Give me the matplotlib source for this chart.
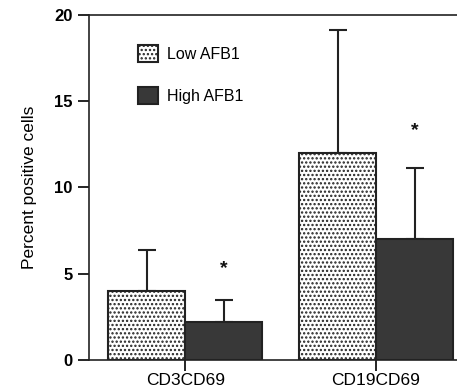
import matplotlib.pyplot as plt
import numpy as np

plt.rcParams['font.family'] = ['Liberation Sans', 'DejaVu Sans']
plt.rcParams['hatch.linewidth'] = 1.1

groups = ['CD3CD69', 'CD19CD69']
low_vals = [4.0, 12.0]
low_err = [2.4, 7.1]
high_vals = [2.2, 7.0]
high_err = [1.3, 4.1]
star_y = [5.3, 13.3]

fig = plt.figure(figsize=(4.57, 3.91), dpi=100)
ax = fig.add_axes([0.195, 0.079, 0.805, 0.883])

x = np.arange(len(groups))
w = 0.403

ax.bar(x - w / 2, low_vals, w, color='white', edgecolor='#222222', hatch='....',
       linewidth=1.5, label='Low AFB1', zorder=2)
ax.bar(x + w / 2, high_vals, w, color='#383838', edgecolor='#222222',
       linewidth=1.5, label='High AFB1', zorder=2)

ax.errorbar(x - w / 2, low_vals, yerr=[np.zeros(2), low_err], fmt='none',
            ecolor='#222222', elinewidth=1.5, capsize=6.5, capthick=1.5, zorder=1)
ax.errorbar(x + w / 2, high_vals, yerr=[np.zeros(2), high_err], fmt='none',
            ecolor='#222222', elinewidth=1.5, capsize=6.5, capthick=1.5, zorder=1)

for xi, sy in zip(x, star_y):
    ax.text(xi + w / 2, sy, '*', ha='center', va='center', fontsize=14,
            fontweight='bold', color='#111111')

ax.set_xlim(-0.503, 1.424)
ax.set_ylim(0, 20)
ax.set_yticks([0, 5, 10, 15, 20])
ax.set_xticks(x)
ax.set_xticklabels(groups, fontsize=12.5)
for lab in ax.get_yticklabels():
    lab.set_fontweight('bold')
    lab.set_fontsize(12)
ax.set_ylabel('Percent positive cells', fontsize=12.5, labelpad=12)

ax.spines['right'].set_visible(False)
for s in ['left', 'bottom', 'top']:
    ax.spines[s].set_linewidth(1.2)
    ax.spines[s].set_color('#222222')
ax.tick_params(axis='y', length=8, width=1.2, direction='out', pad=4)
ax.tick_params(axis='x', length=8, width=1.2, direction='out', pad=1)

ax.legend(loc='upper left', bbox_to_anchor=(0.095, 0.955), frameon=False,
          fontsize=11.5, handlelength=1.2, handleheight=1.3, labelspacing=1.55,
          handletextpad=0.6)

fig.savefig('out.png', dpi=100)
